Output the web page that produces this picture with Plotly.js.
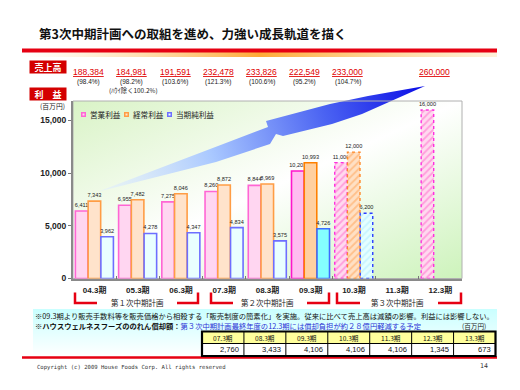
<!DOCTYPE html>
<html><head><meta charset="utf-8">
<script src="https://cdn.plot.ly/plotly-3.0.1.min.js"></script>
<style>html,body{margin:0;padding:0;background:#fff}</style>
</head><body><div id="chart" style="width:520px;height:390px"></div>
<script>
// ---------- data ----------
const categories = ['04.3期','05.3期','06.3期','07.3期','08.3期','09.3期','10.3期','11.3期','12.3期'];
const operatingProfit = [6411,6955,7275,8260,8844,10201,11000,null,16000];
const ordinaryProfit  = [7343,7482,8046,8872,8969,10993,12000,null,null];
const netProfit       = [3962,4278,4347,4834,3575,4726,6200,null,null];
const isForecast = [false,false,false,false,false,false,true,true,true];
const salesValues = [188384,184981,191591,232478,233826,222549,233000,null,260000];
const salesGrowth = ['98.4%','98.2%','103.6%','121.3%','100.6%','95.2%','104.7%',null,null];
const salesNote = '(ﾊｳｲ除く100.2%)';
const seriesNames = ['営業利益','経常利益','当期純利益'];
const yTicks = [0,5000,10000,15000];
const planLabels = ['第１次中期計画','第２次中期計画','第３次中期計画'];
const tableYears = ['07.3期','08.3期','09.3期','10.3期','11.3期','12.3期','13.3期'];
const tableValues = [2760,3433,4106,4106,4106,1345,673];

// ---------- helpers (canvas px -> paper) ----------
const W = 520, H = 390;
const P = x => x / W;
const Q = y => 1 - y / H;
const JP = 'Noto Sans CJK JP, sans-serif';
const LAT = 'Liberation Sans, Noto Sans CJK JP, sans-serif';

const styles = [
  {fill:'#ffd6f1', line:'#ff66d4', hiFill:'#ffbdf0', hiLine:'#ff14cc', fcFill:'#ffd9ef', fcPat:'#ff9ddc', fcLine:'#ff2ee0', offset:-0.445},
  {fill:'#ffe3cb', line:'#ff9d45', hiFill:'#ffd0a0', hiLine:'#ff8000', fcFill:'#ffe0c4', fcPat:'#ffc08a', fcLine:'#ff8a2a', offset:-0.15},
  {fill:'#e9ffff', line:'#6e6eff', hiFill:'#84ffff', hiLine:'#3d6bff', fcFill:'#e4ffff', fcPat:'#c8f4ff', fcLine:'#2a3cff', offset:0.145}
];
const BW = 0.29;
const hiIdx = isForecast.indexOf(true) - 1;

const traces = [];
const shapes = [];
[operatingProfit, ordinaryProfit, netProfit].forEach((data, k) => {
  const s = styles[k];
  const act = data.map((v,i) => isForecast[i] ? null : v);
  const fc  = data.map((v,i) => isForecast[i] ? v : null);
  const common = {type:'bar', x:categories, offset:s.offset, width:BW, texttemplate:'%{y:,}',
    textposition:'outside', cliponaxis:false, constraintext:'none', hoverinfo:'skip', showlegend:false,
    textfont:{family:LAT, size:5.6, color:'#222'}};
  traces.push(Object.assign({}, common, {name:seriesNames[k], y:act,
    marker:{color:act.map((v,i)=> i===hiIdx ? s.hiFill : s.fill),
            line:{color:act.map((v,i)=> i===hiIdx ? s.hiLine : s.line), width:1.6}}}));
  traces.push(Object.assign({}, common, {name:seriesNames[k]+'(予)', y:fc,
    marker:{color:s.fcFill, pattern:{shape:'/', fgcolor:s.fcPat, bgcolor:s.fcFill, size:5, solidity:0.35}, line:{width:0}}}));
  fc.forEach((v,i) => { if (v != null) shapes.push({type:'rect', xref:'x', yref:'y', layer:'above',
    x0:i+s.offset, x1:i+s.offset+BW, y0:0, y1:v, line:{color:s.fcLine, width:1.4, dash:'dot'}}); });
});

const annotations = [];
const A = o => annotations.push(Object.assign({showarrow:false, xref:'paper', yref:'paper', xanchor:'center', yanchor:'middle'}, o));

// plot frame (top/right border)
shapes.push({type:'rect', xref:'x domain', yref:'y domain', x0:0, x1:1, y0:0, y1:1, line:{color:'#b0b0b0', width:1}, layer:'below'});
// red rules
shapes.push({type:'line', xref:'paper', yref:'paper', x0:P(22), x1:P(497), y0:Q(50.5), y1:Q(50.5), line:{color:'#e60012', width:4}});
shapes.push({type:'line', xref:'paper', yref:'paper', x0:P(22), x1:P(497), y0:Q(357.5), y1:Q(357.5), line:{color:'#e60012', width:2.5}});
// plan brackets (decoration)
const bracketPx = [[75,97,177,198],[211,233,307,329],[337,360,438,461]];
bracketPx.forEach(b => {
  shapes.push({type:'path', xref:'paper', yref:'paper', line:{color:'#e60012', width:2.5},
    path:`M${P(b[0])},${Q(292.5)} L${P(b[0])},${Q(303)} L${P(b[1])},${Q(303)}`});
  shapes.push({type:'path', xref:'paper', yref:'paper', line:{color:'#e60012', width:2.5},
    path:`M${P(b[2])},${Q(303)} L${P(b[3])},${Q(303)} L${P(b[3])},${Q(292.5)}`});
});

// table (drawn with shapes + text)
const tX0 = 202, tX1 = 495.5, tY0 = 331.5, tYm = 343.5, tY1 = 356;
const colW = (tX1 - tX0) / tableYears.length;
shapes.push({type:'rect', xref:'paper', yref:'paper', x0:P(tX0), x1:P(tX1), y0:Q(tYm), y1:Q(tY0), fillcolor:'#ffff9c', line:{width:0}});
shapes.push({type:'rect', xref:'paper', yref:'paper', x0:P(tX0), x1:P(tX1), y0:Q(tY1), y1:Q(tYm), fillcolor:'#ffffff', line:{width:0}});
shapes.push({type:'line', xref:'paper', yref:'paper', x0:P(tX0), x1:P(tX1), y0:Q(tYm), y1:Q(tYm), line:{color:'#000', width:1}});
tableYears.forEach((yr, j) => {
  const cx0 = tX0 + j*colW;
  if (j > 0) shapes.push({type:'line', xref:'paper', yref:'paper', x0:P(cx0), x1:P(cx0), y0:Q(tY0), y1:Q(tY1), line:{color:'#000', width:1}});
  A({x:P(cx0 + colW/2), y:Q((tY0+tYm)/2), text:yr, font:{family:JP, size:6.6, color:'#111'}});
  A({x:P(cx0 + colW - 3), y:Q((tYm+tY1)/2), xanchor:'right', text:tableValues[j].toLocaleString('en-US'), font:{family:LAT, size:7.6, color:'#111'}});
});
shapes.push({type:'rect', xref:'paper', yref:'paper', x0:P(tX0), x1:P(tX1), y0:Q(tY1), y1:Q(tY0), line:{color:'#000', width:2.2}});

A({x:P(37), y:Q(33), xanchor:'left', text:'<b>第3次中期計画への取組を進め、力強い成長軌道を描く</b>', font:{family:JP, size:12.5, color:'#111'}});
A({x:P(48), y:Q(66.5), text:'<b>売上高</b>', bgcolor:'#d40000', width:34, height:10, borderpad:1, font:{family:JP, size:9, color:'#fff'}});
A({x:P(48), y:Q(93.5), text:'<b>利　益</b>', bgcolor:'#d40000', width:34, height:10, borderpad:1, font:{family:JP, size:9, color:'#fff'}});
A({x:P(52), y:Q(106.5), text:'(百万円)', font:{family:JP, size:6.8, color:'#222'}});
salesValues.forEach((v,i) => {
  if (v == null) return;
  A({xref:'x', x:i, xshift:-6, y:Q(72), text:'<u>'+v.toLocaleString('en-US')+'</u>', font:{family:LAT, size:8.5, color:'#e00000'}});
  if (salesGrowth[i]) A({xref:'x', x:i, xshift:-6, y:Q(81.5), text:'('+salesGrowth[i]+')', font:{family:LAT, size:6.5, color:'#222'}});
});
A({xref:'x', x:1, xshift:-4, y:Q(90), text:salesNote, font:{family:JP, size:6.4, color:'#222'}});
// legend
const legX = [80,123,166];
seriesNames.forEach((n,k) => {
  A({x:P(legX[k]+3), y:Q(114), text:' ', width:2, height:2, borderpad:0, bgcolor:styles[k].fill, bordercolor:styles[k].line, borderwidth:1.5, font:{size:2}});
  A({x:P(legX[k]+8), y:Q(114), xanchor:'left', text:n, font:{family:JP, size:7.6, color:'#222'}});
});
// plan labels
planLabels.forEach((t,k) => {
  A({xref:'x', x:3*k+1, y:Q(302), text:t, font:{family:JP, size:7.5, color:'#222'}});
});
// footnotes
A({x:P(33), y:Q(316), xanchor:'left', text:'※09.3期より販売手数料等を販売価格から相殺する「販売制度の簡素化」を実施。従来に比べて売上高は減額の影響。利益には影響しない。', font:{family:JP, size:7.3, color:'#111'}});
A({x:P(33), y:Q(325.5), xanchor:'left', text:'<b>※ハウスウェルネスフーズののれん償却額：</b><span style="color:#2b34d6">第３次中期計画最終年度の12.3期には償却負担が約２８億円軽減する予定</span>', font:{family:JP, size:7.3, color:'#111'}});
A({x:P(488), y:Q(326), xanchor:'right', text:'(百万円)', font:{family:JP, size:6.6, color:'#222'}});
A({x:P(35), y:Q(367), xanchor:'left', text:'Copyright (c) 2009 House Foods Corp. All rights reserved', font:{family:'DejaVu Sans Mono, monospace', size:5.6, color:'#333'}});
A({x:P(490), y:Q(366), xanchor:'right', text:'14', font:{family:'DejaVu Sans Mono, monospace', size:6.5, color:'#333'}});

// decorative background (plot gradient, arrow, glow, note box)
const svg = `<svg xmlns="http://www.w3.org/2000/svg" width="520" height="390" viewBox="0 0 520 390">
<defs>
<linearGradient id="bg" x1="0" y1="0" x2="1" y2="1"><stop offset="0" stop-color="#d9f3c6"/><stop offset="0.5" stop-color="#ffffff"/><stop offset="1" stop-color="#cdf3bb"/></linearGradient>
<linearGradient id="ar" gradientUnits="userSpaceOnUse" x1="97" y1="192" x2="425" y2="86"><stop offset="0" stop-color="#e4f0ff" stop-opacity="0.5"/><stop offset="0.35" stop-color="#a9c8ff"/><stop offset="0.7" stop-color="#4a62f2"/><stop offset="1" stop-color="#0a0ce6"/></linearGradient>
<linearGradient id="gl" x1="0" y1="0" x2="1" y2="0"><stop offset="0" stop-color="#ffd080" stop-opacity="0"/><stop offset="0.5" stop-color="#ffa020" stop-opacity="0.9"/><stop offset="1" stop-color="#ffd080" stop-opacity="0.3"/></linearGradient>
<linearGradient id="nb" x1="0" y1="0" x2="0" y2="1"><stop offset="0" stop-color="#c9ffff"/><stop offset="1" stop-color="#ffffff"/></linearGradient>
</defs>
<rect x="73" y="101" width="389" height="177.5" fill="url(#bg)"/>
<rect x="22" y="52" width="475" height="5" fill="url(#gl)"/>
<rect x="33" y="309" width="464" height="47" fill="url(#nb)"/>
<path d="M97,192 L218,146 L268,127 L266,121 L330,104 L368,96 L425,86 L362,114 L332,124 L283,136 L276,134 L270,144 L216,162 Z" fill="url(#ar)"/>
</svg>`;

const layout = {
  width:W, height:H, margin:{l:0, r:0, t:0, b:0}, paper_bgcolor:'#fff', plot_bgcolor:'rgba(0,0,0,0)',
  barmode:'overlay', showlegend:false,
  xaxis:{domain:[P(73), P(462)], type:'category', range:[-0.5, 8.5], showgrid:false, zeroline:false,
    showline:true, linecolor:'#8a8a8a', linewidth:2, ticks:'inside', tickson:'boundaries', ticklen:3, tickcolor:'#777',
    ticklabelstandoff:3, tickfont:{family:LAT, size:8, color:'#222', weight:'bold'}, fixedrange:true},
  yaxis:{domain:[Q(278.5), Q(101)], range:[0, 16850], tickvals:yTicks, tickformat:',', showgrid:false, zeroline:false,
    showline:true, linecolor:'#8a8a8a', linewidth:2, ticks:'outside', ticklen:3, tickcolor:'#777',
    tickfont:{family:LAT, size:8.5, color:'#222', weight:'bold'}, fixedrange:true},
  shapes:shapes, annotations:annotations,
  images:[{source:'data:image/svg+xml;charset=utf-8,'+encodeURIComponent(svg), xref:'paper', yref:'paper', x:0, y:1, sizex:1, sizey:1,
    xanchor:'left', yanchor:'top', sizing:'stretch', layer:'below'}]
};
Plotly.newPlot('chart', traces, layout, {staticPlot:true, displayModeBar:false});
</script></body></html>
